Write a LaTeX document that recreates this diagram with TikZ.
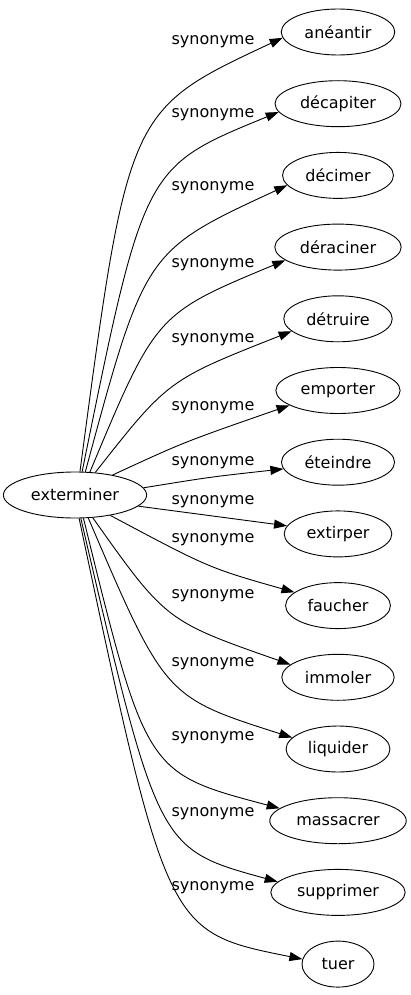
\documentclass[tikz,border=0pt]{standalone}
\usepackage{fontspec}
\setmainfont{DejaVu Sans}
\usetikzlibrary{arrows.meta,shapes.geometric}
\begin{document}
\begin{tikzpicture}[x=1pt,y=-1pt,
  word/.style={draw, ellipse, line width=0.9pt, inner xsep=6.6pt, inner ysep=2pt,
    minimum height=46pt, minimum width=72pt, font=\fontsize{16}{19}\selectfont},
  lab/.style={font=\fontsize{16}{19}\selectfont, inner sep=0pt},
  edge/.style={line width=0.9pt, -{Triangle[length=13pt,width=9pt]}}]
\useasboundingbox (0,0) rectangle (410,995);
\node[word] (ext) at (75,495) {exterminer};
\node[word] (t1) at (338,32) {anéantir};
\node[word] (t2) at (338,103.7) {décapiter};
\node[word] (t3) at (338,175.4) {décimer};
\node[word] (t4) at (338,247.1) {déraciner};
\node[word] (t5) at (338,318.8) {détruire};
\node[word] (t6) at (338,390.5) {emporter};
\node[word] (t7) at (338,462.2) {éteindre};
\node[word] (t8) at (338,533.9) {extirper};
\node[word] (t9) at (338,605.6) {faucher};
\node[word] (t10) at (338,677.3) {immoler};
\node[word] (t11) at (338,749) {liquider};
\node[word] (t12) at (338,820.7) {massacrer};
\node[word] (t13) at (338,892.4) {supprimer};
\node[word] (t14) at (338,964.1) {tuer};
\node[lab] (l1) at (213,42) {synonyme};
\node[lab] (l2) at (213,115) {synonyme};
\node[lab] (l3) at (213,188) {synonyme};
\node[lab] (l4) at (213,265) {synonyme};
\node[lab] (l5) at (213,340) {synonyme};
\node[lab] (l6) at (213,408) {synonyme};
\node[lab] (l7) at (213,463) {synonyme};
\node[lab] (l8) at (213,502) {synonyme};
\node[lab] (l9) at (213,540) {synonyme};
\node[lab] (l10) at (213,596) {synonyme};
\node[lab] (l11) at (213,664) {synonyme};
\node[lab] (l12) at (213,738) {synonyme};
\node[lab] (l13) at (213,814) {synonyme};
\node[lab] (l14) at (213,888) {synonyme};
\draw[edge] (ext.78) .. controls (128,110) .. (t1.186);
\draw[edge] (ext.73) .. controls (144,167) .. (t2.188);
\draw[edge] (ext.66) .. controls (145,251) .. (t3.191);
\draw[edge] (ext.57) .. controls (156,314) .. (t4.194);
\draw[edge] (ext.48) .. controls (168,380) .. (t5.195);
\draw[edge] (ext.28) .. controls (184,442) .. (t6.197);
\draw[edge] (ext.6) .. controls (210,477) .. (t7.187);
\draw[edge] (ext.-10) -- (t8.171);
\draw[edge] (ext.-30) .. controls (209,568) .. (t9.163);
\draw[edge] (ext.-52) .. controls (166,621) .. (t10.165);
\draw[edge] (ext.-60) .. controls (165,697) .. (t11.166);
\draw[edge] (ext.-70) .. controls (146,773) .. (t12.168);
\draw[edge] (ext.-76) .. controls (158,849) .. (t13.170);
\draw[edge] (ext.-80) .. controls (167,932) .. (t14.172);
\end{tikzpicture}
\end{document}
